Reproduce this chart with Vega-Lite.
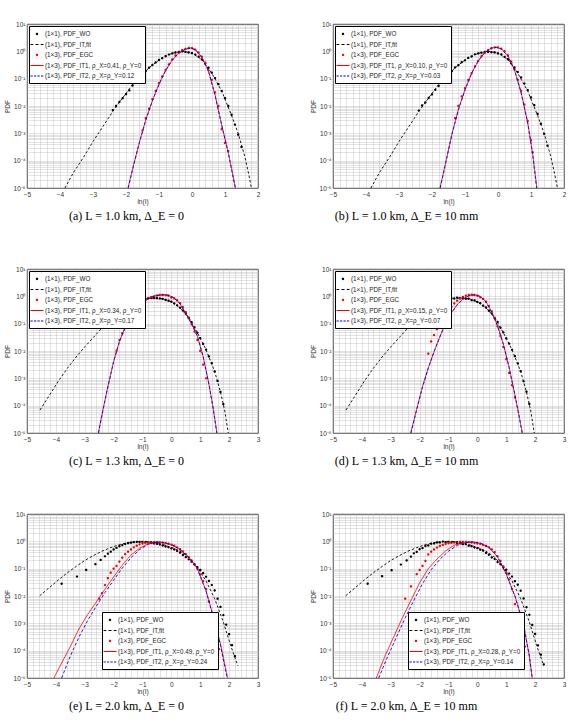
{
"$schema": "https://vega.github.io/schema/vega-lite/v6.json",
"background": "white",
"padding": {"left": 4, "top": 20, "right": 5, "bottom": 5},
"columns": 2,
"spacing": {"row": 81, "column": 75},
"bounds": "flush",
"resolve": {"scale": {"color": "independent", "shape": "independent", "strokeDash": "independent"}},
"datasets": {
"a": [
{"s":"W","x":-2.4,"y":0.00708},{"s":"W","x":-2.3,"y":0.01},{"s":"W","x":-2.2,"y":0.0141},{"s":"W","x":-2.1,"y":0.0191},{"s":"W","x":-2,"y":0.0269},{"s":"W","x":-1.9,"y":0.0372},{"s":"W","x":-1.8,"y":0.0562},{"s":"W","x":-1.7,"y":0.0794},{"s":"W","x":-1.6,"y":0.107},{"s":"W","x":-1.5,"y":0.145},{"s":"W","x":-1.4,"y":0.191},{"s":"W","x":-1.3,"y":0.251},{"s":"W","x":-1.2,"y":0.316},{"s":"W","x":-1.1,"y":0.389},{"s":"W","x":-1,"y":0.479},{"s":"W","x":-0.9,"y":0.562},{"s":"W","x":-0.8,"y":0.661},{"s":"W","x":-0.7,"y":0.759},{"s":"W","x":-0.6,"y":0.832},{"s":"W","x":-0.5,"y":0.912},{"s":"W","x":-0.4,"y":0.955},{"s":"W","x":-0.3,"y":0.977},{"s":"W","x":-0.2,"y":0.955},{"s":"W","x":-0.1,"y":0.912},{"s":"W","x":0,"y":0.851},{"s":"W","x":0.1,"y":0.759},{"s":"W","x":0.2,"y":0.631},{"s":"W","x":0.3,"y":0.501},{"s":"W","x":0.4,"y":0.355},{"s":"W","x":0.5,"y":0.251},{"s":"W","x":0.6,"y":0.166},{"s":"W","x":0.7,"y":0.105},{"s":"W","x":0.8,"y":0.0631},{"s":"W","x":0.9,"y":0.0355},{"s":"W","x":1,"y":0.0191},{"s":"W","x":1.1,"y":0.01},{"s":"W","x":1.2,"y":0.00479},{"s":"W","x":1.3,"y":0.00209},{"s":"W","x":1.4,"y":0.000891},{"s":"W","x":1.5,"y":0.000316},
{"s":"F","x":-3.85,"y":0.00001},{"s":"F","x":-3.6,"y":0.0000355},{"s":"F","x":-3.3,"y":0.000126},{"s":"F","x":-3,"y":0.000501},{"s":"F","x":-2.7,"y":0.00178},{"s":"F","x":-2.4,"y":0.00631},{"s":"F","x":-2.1,"y":0.02},{"s":"F","x":-1.8,"y":0.0603},{"s":"F","x":-1.5,"y":0.151},{"s":"F","x":-1.2,"y":0.316},{"s":"F","x":-0.9,"y":0.575},{"s":"F","x":-0.6,"y":0.851},{"s":"F","x":-0.3,"y":1},{"s":"F","x":0,"y":0.871},{"s":"F","x":0.3,"y":0.501},{"s":"F","x":0.6,"y":0.158},{"s":"F","x":0.9,"y":0.0355},{"s":"F","x":1.2,"y":0.00447},{"s":"F","x":1.4,"y":0.001},{"s":"F","x":1.6,"y":0.000141},{"s":"F","x":1.72,"y":0.0000316},{"s":"F","x":1.8,"y":0.00001},
{"s":"E","x":-1.5,"y":0.00126},{"s":"E","x":-1.4,"y":0.00355},{"s":"E","x":-1.3,"y":0.00794},{"s":"E","x":-1.2,"y":0.0178},{"s":"E","x":-1.1,"y":0.0355},{"s":"E","x":-1,"y":0.0676},{"s":"E","x":-0.9,"y":0.12},{"s":"E","x":-0.8,"y":0.209},{"s":"E","x":-0.7,"y":0.331},{"s":"E","x":-0.6,"y":0.501},{"s":"E","x":-0.5,"y":0.708},{"s":"E","x":-0.4,"y":0.912},{"s":"E","x":-0.3,"y":1.1},{"s":"E","x":-0.2,"y":1.23},{"s":"E","x":-0.1,"y":1.32},{"s":"E","x":0,"y":1.29},{"s":"E","x":0.1,"y":1.15},{"s":"E","x":0.2,"y":0.891},{"s":"E","x":0.3,"y":0.631},{"s":"E","x":0.4,"y":0.38},{"s":"E","x":0.5,"y":0.2},{"s":"E","x":0.6,"y":0.0891},{"s":"E","x":0.7,"y":0.0316},{"s":"E","x":0.8,"y":0.01},{"s":"E","x":0.9,"y":0.00141},{"s":"E","x":1,"y":0.000447},{"s":"E","x":1.1,"y":0.000224},
{"s":"1","x":-1.94,"y":0.00001},{"s":"1","x":-1.8,"y":0.0000501},{"s":"1","x":-1.6,"y":0.000447},{"s":"1","x":-1.4,"y":0.00316},{"s":"1","x":-1.2,"y":0.0158},{"s":"1","x":-1,"y":0.0631},{"s":"1","x":-0.8,"y":0.2},{"s":"1","x":-0.6,"y":0.479},{"s":"1","x":-0.4,"y":0.871},{"s":"1","x":-0.2,"y":1.2},{"s":"1","x":-0.05,"y":1.32},{"s":"1","x":0.1,"y":1.17},{"s":"1","x":0.3,"y":0.603},{"s":"1","x":0.5,"y":0.191},{"s":"1","x":0.7,"y":0.0251},{"s":"1","x":0.9,"y":0.002},{"s":"1","x":1.1,"y":0.0002},{"s":"1","x":1.32,"y":0.00001},
{"s":"2","x":-1.93,"y":0.00001},{"s":"2","x":-1.8,"y":0.0000479},{"s":"2","x":-1.6,"y":0.000427},{"s":"2","x":-1.4,"y":0.00302},{"s":"2","x":-1.2,"y":0.0155},{"s":"2","x":-1,"y":0.0617},{"s":"2","x":-0.8,"y":0.196},{"s":"2","x":-0.6,"y":0.468},{"s":"2","x":-0.4,"y":0.861},{"s":"2","x":-0.2,"y":1.19},{"s":"2","x":-0.05,"y":1.31},{"s":"2","x":0.1,"y":1.16},{"s":"2","x":0.3,"y":0.6},{"s":"2","x":0.5,"y":0.19},{"s":"2","x":0.7,"y":0.0245},{"s":"2","x":0.9,"y":0.00195},{"s":"2","x":1.1,"y":0.00019},{"s":"2","x":1.31,"y":0.00001}
],
"b": [
{"s":"W","x":-2.4,"y":0.0068},{"s":"W","x":-2.3,"y":0.0105},{"s":"W","x":-2.2,"y":0.0135},{"s":"W","x":-2.1,"y":0.0195},{"s":"W","x":-2,"y":0.0263},{"s":"W","x":-1.9,"y":0.0389},{"s":"W","x":-1.8,"y":0.0537},{"s":"W","x":-1.7,"y":0.0813},{"s":"W","x":-1.6,"y":0.105},{"s":"W","x":-1.5,"y":0.148},{"s":"W","x":-1.4,"y":0.186},{"s":"W","x":-1.3,"y":0.257},{"s":"W","x":-1.2,"y":0.309},{"s":"W","x":-1.1,"y":0.398},{"s":"W","x":-1,"y":0.468},{"s":"W","x":-0.9,"y":0.575},{"s":"W","x":-0.8,"y":0.646},{"s":"W","x":-0.7,"y":0.776},{"s":"W","x":-0.6,"y":0.832},{"s":"W","x":-0.5,"y":0.891},{"s":"W","x":-0.4,"y":0.955},{"s":"W","x":-0.3,"y":0.955},{"s":"W","x":-0.2,"y":0.933},{"s":"W","x":-0.1,"y":0.912},{"s":"W","x":0,"y":0.832},{"s":"W","x":0.1,"y":0.776},{"s":"W","x":0.2,"y":0.617},{"s":"W","x":0.3,"y":0.513},{"s":"W","x":0.4,"y":0.363},{"s":"W","x":0.5,"y":0.257},{"s":"W","x":0.6,"y":0.174},{"s":"W","x":0.7,"y":0.11},{"s":"W","x":0.8,"y":0.0661},{"s":"W","x":0.9,"y":0.038},{"s":"W","x":1,"y":0.0204},{"s":"W","x":1.1,"y":0.0107},{"s":"W","x":1.2,"y":0.00513},{"s":"W","x":1.3,"y":0.00224},{"s":"W","x":1.4,"y":0.000955},{"s":"W","x":1.5,"y":0.000355},
{"s":"F","x":-3.85,"y":0.00001},{"s":"F","x":-3.6,"y":0.0000355},{"s":"F","x":-3.3,"y":0.000126},{"s":"F","x":-3,"y":0.000501},{"s":"F","x":-2.7,"y":0.00178},{"s":"F","x":-2.4,"y":0.00631},{"s":"F","x":-2.1,"y":0.02},{"s":"F","x":-1.8,"y":0.0603},{"s":"F","x":-1.5,"y":0.151},{"s":"F","x":-1.2,"y":0.316},{"s":"F","x":-0.9,"y":0.575},{"s":"F","x":-0.6,"y":0.851},{"s":"F","x":-0.3,"y":1},{"s":"F","x":0,"y":0.871},{"s":"F","x":0.3,"y":0.501},{"s":"F","x":0.6,"y":0.158},{"s":"F","x":0.9,"y":0.0355},{"s":"F","x":1.2,"y":0.00447},{"s":"F","x":1.4,"y":0.001},{"s":"F","x":1.6,"y":0.000141},{"s":"F","x":1.72,"y":0.0000316},{"s":"F","x":1.8,"y":0.00001},
{"s":"E","x":-1.3,"y":0.00355},{"s":"E","x":-1.2,"y":0.01},{"s":"E","x":-1.1,"y":0.0224},{"s":"E","x":-1,"y":0.0447},{"s":"E","x":-0.9,"y":0.0891},{"s":"E","x":-0.8,"y":0.158},{"s":"E","x":-0.7,"y":0.282},{"s":"E","x":-0.6,"y":0.447},{"s":"E","x":-0.5,"y":0.661},{"s":"E","x":-0.4,"y":0.891},{"s":"E","x":-0.3,"y":1.1},{"s":"E","x":-0.2,"y":1.29},{"s":"E","x":-0.1,"y":1.38},{"s":"E","x":0,"y":1.38},{"s":"E","x":0.1,"y":1.26},{"s":"E","x":0.2,"y":1.02},{"s":"E","x":0.3,"y":0.708},{"s":"E","x":0.4,"y":0.417},{"s":"E","x":0.5,"y":0.219},{"s":"E","x":0.6,"y":0.0891},{"s":"E","x":0.7,"y":0.0355},{"s":"E","x":0.8,"y":0.0112},{"s":"E","x":0.9,"y":0.00282},{"s":"E","x":1,"y":0.000562},{"s":"E","x":1.05,"y":0.0002},
{"s":"1","x":-1.76,"y":0.00001},{"s":"1","x":-1.6,"y":0.0000708},{"s":"1","x":-1.4,"y":0.000912},{"s":"1","x":-1.2,"y":0.00759},{"s":"1","x":-1,"y":0.0398},{"s":"1","x":-0.8,"y":0.158},{"s":"1","x":-0.6,"y":0.447},{"s":"1","x":-0.4,"y":0.912},{"s":"1","x":-0.2,"y":1.32},{"s":"1","x":-0.05,"y":1.41},{"s":"1","x":0.1,"y":1.23},{"s":"1","x":0.3,"y":0.692},{"s":"1","x":0.5,"y":0.209},{"s":"1","x":0.7,"y":0.0316},{"s":"1","x":0.9,"y":0.00251},{"s":"1","x":1.05,"y":0.000178},{"s":"1","x":1.18,"y":0.00001},
{"s":"2","x":-1.75,"y":0.00001},{"s":"2","x":-1.6,"y":0.0000676},{"s":"2","x":-1.4,"y":0.000871},{"s":"2","x":-1.2,"y":0.00724},{"s":"2","x":-1,"y":0.0389},{"s":"2","x":-0.8,"y":0.155},{"s":"2","x":-0.6,"y":0.44},{"s":"2","x":-0.4,"y":0.9},{"s":"2","x":-0.2,"y":1.3},{"s":"2","x":-0.05,"y":1.4},{"s":"2","x":0.1,"y":1.22},{"s":"2","x":0.3,"y":0.68},{"s":"2","x":0.5,"y":0.204},{"s":"2","x":0.7,"y":0.0309},{"s":"2","x":0.9,"y":0.0024},{"s":"2","x":1.05,"y":0.00017},{"s":"2","x":1.17,"y":0.00001}
],
"c": [
{"s":"W","x":-2.2,"y":0.12},{"s":"W","x":-2.1,"y":0.151},{"s":"W","x":-2,"y":0.186},{"s":"W","x":-1.9,"y":0.229},{"s":"W","x":-1.8,"y":0.282},{"s":"W","x":-1.7,"y":0.339},{"s":"W","x":-1.6,"y":0.398},{"s":"W","x":-1.5,"y":0.468},{"s":"W","x":-1.4,"y":0.537},{"s":"W","x":-1.3,"y":0.603},{"s":"W","x":-1.2,"y":0.661},{"s":"W","x":-1.1,"y":0.724},{"s":"W","x":-1,"y":0.776},{"s":"W","x":-0.9,"y":0.813},{"s":"W","x":-0.8,"y":0.851},{"s":"W","x":-0.7,"y":0.871},{"s":"W","x":-0.6,"y":0.871},{"s":"W","x":-0.5,"y":0.851},{"s":"W","x":-0.4,"y":0.832},{"s":"W","x":-0.3,"y":0.794},{"s":"W","x":-0.2,"y":0.741},{"s":"W","x":-0.1,"y":0.692},{"s":"W","x":0,"y":0.631},{"s":"W","x":0.1,"y":0.55},{"s":"W","x":0.2,"y":0.468},{"s":"W","x":0.3,"y":0.38},{"s":"W","x":0.4,"y":0.302},{"s":"W","x":0.5,"y":0.229},{"s":"W","x":0.6,"y":0.166},{"s":"W","x":0.7,"y":0.112},{"s":"W","x":0.8,"y":0.0724},{"s":"W","x":0.9,"y":0.0468},{"s":"W","x":1,"y":0.0295},{"s":"W","x":1.1,"y":0.0182},{"s":"W","x":1.2,"y":0.0112},{"s":"W","x":1.3,"y":0.00631},{"s":"W","x":1.4,"y":0.00355},{"s":"W","x":1.5,"y":0.00178},{"s":"W","x":1.6,"y":0.000794},{"s":"W","x":1.7,"y":0.000316},{"s":"W","x":1.8,"y":0.000112},
{"s":"F","x":-4.55,"y":0.0000692},{"s":"F","x":-4.2,"y":0.000263},{"s":"F","x":-3.9,"y":0.000832},{"s":"F","x":-3.6,"y":0.00234},{"s":"F","x":-3.3,"y":0.00603},{"s":"F","x":-3,"y":0.0141},{"s":"F","x":-2.7,"y":0.0316},{"s":"F","x":-2.4,"y":0.0708},{"s":"F","x":-2.1,"y":0.148},{"s":"F","x":-1.8,"y":0.282},{"s":"F","x":-1.5,"y":0.468},{"s":"F","x":-1.2,"y":0.661},{"s":"F","x":-0.9,"y":0.813},{"s":"F","x":-0.6,"y":0.871},{"s":"F","x":-0.3,"y":0.813},{"s":"F","x":0,"y":0.631},{"s":"F","x":0.3,"y":0.38},{"s":"F","x":0.6,"y":0.166},{"s":"F","x":0.9,"y":0.0468},{"s":"F","x":1.2,"y":0.0112},{"s":"F","x":1.5,"y":0.00178},{"s":"F","x":1.7,"y":0.000316},{"s":"F","x":1.85,"y":0.0000631},{"s":"F","x":1.97,"y":0.00001},
{"s":"E","x":-1.9,"y":0.01},{"s":"E","x":-1.8,"y":0.0251},{"s":"E","x":-1.7,"y":0.0447},{"s":"E","x":-1.6,"y":0.0891},{"s":"E","x":-1.5,"y":0.132},{"s":"E","x":-1.4,"y":0.2},{"s":"E","x":-1.3,"y":0.282},{"s":"E","x":-1.2,"y":0.38},{"s":"E","x":-1.1,"y":0.501},{"s":"E","x":-1,"y":0.631},{"s":"E","x":-0.9,"y":0.741},{"s":"E","x":-0.8,"y":0.851},{"s":"E","x":-0.7,"y":0.933},{"s":"E","x":-0.6,"y":1},{"s":"E","x":-0.5,"y":1.07},{"s":"E","x":-0.4,"y":1.12},{"s":"E","x":-0.3,"y":1.12},{"s":"E","x":-0.2,"y":1.1},{"s":"E","x":-0.1,"y":1.05},{"s":"E","x":0,"y":0.912},{"s":"E","x":0.1,"y":0.832},{"s":"E","x":0.2,"y":0.708},{"s":"E","x":0.3,"y":0.562},{"s":"E","x":0.4,"y":0.398},{"s":"E","x":0.5,"y":0.263},{"s":"E","x":0.6,"y":0.158},{"s":"E","x":0.7,"y":0.0955},{"s":"E","x":0.8,"y":0.0501},{"s":"E","x":0.9,"y":0.0251},{"s":"E","x":1,"y":0.01},{"s":"E","x":1.1,"y":0.00316},{"s":"E","x":1.2,"y":0.001},
{"s":"1","x":-2.53,"y":0.00001},{"s":"1","x":-2.4,"y":0.0000501},{"s":"1","x":-2.2,"y":0.000501},{"s":"1","x":-2,"y":0.00417},{"s":"1","x":-1.8,"y":0.0224},{"s":"1","x":-1.6,"y":0.0741},{"s":"1","x":-1.4,"y":0.182},{"s":"1","x":-1.2,"y":0.355},{"s":"1","x":-1,"y":0.589},{"s":"1","x":-0.8,"y":0.832},{"s":"1","x":-0.6,"y":1.02},{"s":"1","x":-0.4,"y":1.12},{"s":"1","x":-0.25,"y":1.15},{"s":"1","x":-0.1,"y":1.1},{"s":"1","x":0.1,"y":0.871},{"s":"1","x":0.3,"y":0.537},{"s":"1","x":0.5,"y":0.24},{"s":"1","x":0.7,"y":0.1},{"s":"1","x":0.9,"y":0.0355},{"s":"1","x":1.1,"y":0.00631},{"s":"1","x":1.3,"y":0.000631},{"s":"1","x":1.45,"y":0.0000794},{"s":"1","x":1.58,"y":0.00001},
{"s":"2","x":-2.52,"y":0.00001},{"s":"2","x":-2.4,"y":0.0000468},{"s":"2","x":-2.2,"y":0.000479},{"s":"2","x":-2,"y":0.00407},{"s":"2","x":-1.8,"y":0.0219},{"s":"2","x":-1.6,"y":0.0724},{"s":"2","x":-1.4,"y":0.178},{"s":"2","x":-1.2,"y":0.35},{"s":"2","x":-1,"y":0.58},{"s":"2","x":-0.8,"y":0.82},{"s":"2","x":-0.6,"y":1.01},{"s":"2","x":-0.4,"y":1.11},{"s":"2","x":-0.25,"y":1.14},{"s":"2","x":-0.1,"y":1.09},{"s":"2","x":0.1,"y":0.865},{"s":"2","x":0.3,"y":0.53},{"s":"2","x":0.5,"y":0.236},{"s":"2","x":0.7,"y":0.098},{"s":"2","x":0.9,"y":0.0347},{"s":"2","x":1.1,"y":0.00617},{"s":"2","x":1.3,"y":0.000603},{"s":"2","x":1.45,"y":0.0000759},{"s":"2","x":1.57,"y":0.00001}
],
"d": [
{"s":"W","x":-2.2,"y":0.115},{"s":"W","x":-2.1,"y":0.155},{"s":"W","x":-2,"y":0.182},{"s":"W","x":-1.9,"y":0.234},{"s":"W","x":-1.8,"y":0.275},{"s":"W","x":-1.7,"y":0.347},{"s":"W","x":-1.6,"y":0.389},{"s":"W","x":-1.5,"y":0.479},{"s":"W","x":-1.4,"y":0.525},{"s":"W","x":-1.3,"y":0.617},{"s":"W","x":-1.2,"y":0.646},{"s":"W","x":-1.1,"y":0.741},{"s":"W","x":-1,"y":0.759},{"s":"W","x":-0.9,"y":0.832},{"s":"W","x":-0.8,"y":0.832},{"s":"W","x":-0.7,"y":0.891},{"s":"W","x":-0.6,"y":0.851},{"s":"W","x":-0.5,"y":0.871},{"s":"W","x":-0.4,"y":0.813},{"s":"W","x":-0.3,"y":0.813},{"s":"W","x":-0.2,"y":0.724},{"s":"W","x":-0.1,"y":0.708},{"s":"W","x":0,"y":0.617},{"s":"W","x":0.1,"y":0.562},{"s":"W","x":0.2,"y":0.457},{"s":"W","x":0.3,"y":0.389},{"s":"W","x":0.4,"y":0.295},{"s":"W","x":0.5,"y":0.234},{"s":"W","x":0.6,"y":0.162},{"s":"W","x":0.7,"y":0.115},{"s":"W","x":0.8,"y":0.0708},{"s":"W","x":0.9,"y":0.0479},{"s":"W","x":1,"y":0.0288},{"s":"W","x":1.1,"y":0.0186},{"s":"W","x":1.2,"y":0.011},{"s":"W","x":1.3,"y":0.00646},{"s":"W","x":1.4,"y":0.00347},{"s":"W","x":1.5,"y":0.00182},{"s":"W","x":1.6,"y":0.000776},{"s":"W","x":1.7,"y":0.000324},{"s":"W","x":1.8,"y":0.000115},
{"s":"F","x":-4.55,"y":0.0000692},{"s":"F","x":-4.2,"y":0.000263},{"s":"F","x":-3.9,"y":0.000832},{"s":"F","x":-3.6,"y":0.00234},{"s":"F","x":-3.3,"y":0.00603},{"s":"F","x":-3,"y":0.0141},{"s":"F","x":-2.7,"y":0.0316},{"s":"F","x":-2.4,"y":0.0708},{"s":"F","x":-2.1,"y":0.148},{"s":"F","x":-1.8,"y":0.282},{"s":"F","x":-1.5,"y":0.468},{"s":"F","x":-1.2,"y":0.661},{"s":"F","x":-0.9,"y":0.813},{"s":"F","x":-0.6,"y":0.871},{"s":"F","x":-0.3,"y":0.813},{"s":"F","x":0,"y":0.631},{"s":"F","x":0.3,"y":0.38},{"s":"F","x":0.6,"y":0.166},{"s":"F","x":0.9,"y":0.0468},{"s":"F","x":1.2,"y":0.0112},{"s":"F","x":1.5,"y":0.00178},{"s":"F","x":1.7,"y":0.000316},{"s":"F","x":1.85,"y":0.0000631},{"s":"F","x":1.97,"y":0.00001},
{"s":"E","x":-1.7,"y":0.00794},{"s":"E","x":-1.6,"y":0.0224},{"s":"E","x":-1.5,"y":0.038},{"s":"E","x":-1.4,"y":0.0631},{"s":"E","x":-1.3,"y":0.105},{"s":"E","x":-1.2,"y":0.158},{"s":"E","x":-1.1,"y":0.229},{"s":"E","x":-1,"y":0.316},{"s":"E","x":-0.9,"y":0.417},{"s":"E","x":-0.8,"y":0.55},{"s":"E","x":-0.7,"y":0.692},{"s":"E","x":-0.6,"y":0.832},{"s":"E","x":-0.5,"y":0.955},{"s":"E","x":-0.4,"y":1.05},{"s":"E","x":-0.3,"y":1.12},{"s":"E","x":-0.2,"y":1.15},{"s":"E","x":-0.1,"y":1.12},{"s":"E","x":0,"y":1.05},{"s":"E","x":0.1,"y":0.933},{"s":"E","x":0.2,"y":0.794},{"s":"E","x":0.3,"y":0.631},{"s":"E","x":0.4,"y":0.447},{"s":"E","x":0.5,"y":0.282},{"s":"E","x":0.6,"y":0.158},{"s":"E","x":0.7,"y":0.0794},{"s":"E","x":0.8,"y":0.0355},{"s":"E","x":0.9,"y":0.0141},{"s":"E","x":1,"y":0.00501},{"s":"E","x":1.1,"y":0.00158},{"s":"E","x":1.2,"y":0.000562},{"s":"E","x":1.3,"y":0.0002},
{"s":"1","x":-2.31,"y":0.00001},{"s":"1","x":-2.1,"y":0.0000759},{"s":"1","x":-1.9,"y":0.000501},{"s":"1","x":-1.7,"y":0.0024},{"s":"1","x":-1.5,"y":0.00955},{"s":"1","x":-1.3,"y":0.0331},{"s":"1","x":-1.1,"y":0.107},{"s":"1","x":-0.9,"y":0.251},{"s":"1","x":-0.7,"y":0.501},{"s":"1","x":-0.5,"y":0.794},{"s":"1","x":-0.3,"y":1.05},{"s":"1","x":-0.1,"y":1.15},{"s":"1","x":0.1,"y":1},{"s":"1","x":0.3,"y":0.631},{"s":"1","x":0.5,"y":0.263},{"s":"1","x":0.7,"y":0.0832},{"s":"1","x":0.9,"y":0.0178},{"s":"1","x":1.1,"y":0.00251},{"s":"1","x":1.3,"y":0.000251},{"s":"1","x":1.45,"y":0.0000398},{"s":"1","x":1.56,"y":0.00001},
{"s":"2","x":-2.3,"y":0.00001},{"s":"2","x":-2.1,"y":0.0000724},{"s":"2","x":-1.9,"y":0.000479},{"s":"2","x":-1.7,"y":0.00234},{"s":"2","x":-1.5,"y":0.00933},{"s":"2","x":-1.3,"y":0.0324},{"s":"2","x":-1.1,"y":0.105},{"s":"2","x":-0.9,"y":0.245},{"s":"2","x":-0.7,"y":0.49},{"s":"2","x":-0.5,"y":0.785},{"s":"2","x":-0.3,"y":1.04},{"s":"2","x":-0.1,"y":1.14},{"s":"2","x":0.1,"y":0.99},{"s":"2","x":0.3,"y":0.625},{"s":"2","x":0.5,"y":0.258},{"s":"2","x":0.7,"y":0.0813},{"s":"2","x":0.9,"y":0.0174},{"s":"2","x":1.1,"y":0.00245},{"s":"2","x":1.3,"y":0.00024},{"s":"2","x":1.45,"y":0.000038},{"s":"2","x":1.55,"y":0.00001}
],
"e": [
{"s":"W","x":-3.8,"y":0.0282},{"s":"W","x":-3.27,"y":0.0513},{"s":"W","x":-2.95,"y":0.0891},{"s":"W","x":-2.63,"y":0.145},{"s":"W","x":-2.45,"y":0.209},{"s":"W","x":-2.3,"y":0.282},{"s":"W","x":-2.2,"y":0.355},{"s":"W","x":-2.1,"y":0.417},{"s":"W","x":-2,"y":0.501},{"s":"W","x":-1.9,"y":0.575},{"s":"W","x":-1.8,"y":0.661},{"s":"W","x":-1.7,"y":0.724},{"s":"W","x":-1.6,"y":0.794},{"s":"W","x":-1.5,"y":0.851},{"s":"W","x":-1.4,"y":0.891},{"s":"W","x":-1.3,"y":0.933},{"s":"W","x":-1.2,"y":0.955},{"s":"W","x":-1.1,"y":0.955},{"s":"W","x":-1,"y":0.955},{"s":"W","x":-0.9,"y":0.933},{"s":"W","x":-0.8,"y":0.912},{"s":"W","x":-0.7,"y":0.871},{"s":"W","x":-0.6,"y":0.832},{"s":"W","x":-0.5,"y":0.794},{"s":"W","x":-0.4,"y":0.759},{"s":"W","x":-0.3,"y":0.708},{"s":"W","x":-0.2,"y":0.646},{"s":"W","x":-0.1,"y":0.603},{"s":"W","x":0,"y":0.55},{"s":"W","x":0.1,"y":0.501},{"s":"W","x":0.2,"y":0.447},{"s":"W","x":0.3,"y":0.38},{"s":"W","x":0.4,"y":0.316},{"s":"W","x":0.5,"y":0.263},{"s":"W","x":0.6,"y":0.219},{"s":"W","x":0.7,"y":0.178},{"s":"W","x":0.8,"y":0.141},{"s":"W","x":0.9,"y":0.112},{"s":"W","x":1,"y":0.0891},{"s":"W","x":1.1,"y":0.0676},{"s":"W","x":1.2,"y":0.0501},{"s":"W","x":1.3,"y":0.0355},{"s":"W","x":1.4,"y":0.0251},{"s":"W","x":1.5,"y":0.0158},{"s":"W","x":1.6,"y":0.00794},{"s":"W","x":1.7,"y":0.00398},{"s":"W","x":1.8,"y":0.002},{"s":"W","x":1.9,"y":0.000891},{"s":"W","x":2,"y":0.000398},{"s":"W","x":2.1,"y":0.000158},{"s":"W","x":2.2,"y":0.0000631},
{"s":"F","x":-4.56,"y":0.0102},{"s":"F","x":-4.2,"y":0.0214},{"s":"F","x":-3.9,"y":0.0398},{"s":"F","x":-3.6,"y":0.0708},{"s":"F","x":-3.3,"y":0.12},{"s":"F","x":-3,"y":0.2},{"s":"F","x":-2.7,"y":0.302},{"s":"F","x":-2.4,"y":0.437},{"s":"F","x":-2.1,"y":0.589},{"s":"F","x":-1.8,"y":0.759},{"s":"F","x":-1.5,"y":0.891},{"s":"F","x":-1.2,"y":0.977},{"s":"F","x":-0.9,"y":1},{"s":"F","x":-0.6,"y":0.933},{"s":"F","x":-0.3,"y":0.759},{"s":"F","x":0,"y":0.603},{"s":"F","x":0.3,"y":0.437},{"s":"F","x":0.6,"y":0.263},{"s":"F","x":0.9,"y":0.112},{"s":"F","x":1.2,"y":0.0355},{"s":"F","x":1.5,"y":0.00794},{"s":"F","x":1.8,"y":0.00112},{"s":"F","x":2.05,"y":0.000158},{"s":"F","x":2.3,"y":0.0000282},
{"s":"E","x":-2.5,"y":0.00794},{"s":"E","x":-2.4,"y":0.0126},{"s":"E","x":-2.3,"y":0.0251},{"s":"E","x":-2.2,"y":0.0447},{"s":"E","x":-2.1,"y":0.0708},{"s":"E","x":-2,"y":0.1},{"s":"E","x":-1.9,"y":0.126},{"s":"E","x":-1.8,"y":0.178},{"s":"E","x":-1.7,"y":0.251},{"s":"E","x":-1.6,"y":0.339},{"s":"E","x":-1.5,"y":0.417},{"s":"E","x":-1.4,"y":0.501},{"s":"E","x":-1.3,"y":0.603},{"s":"E","x":-1.2,"y":0.692},{"s":"E","x":-1.1,"y":0.776},{"s":"E","x":-1,"y":0.832},{"s":"E","x":-0.9,"y":0.871},{"s":"E","x":-0.8,"y":0.912},{"s":"E","x":-0.7,"y":0.912},{"s":"E","x":-0.6,"y":0.933},{"s":"E","x":-0.5,"y":0.933},{"s":"E","x":-0.4,"y":0.912},{"s":"E","x":-0.3,"y":0.891},{"s":"E","x":-0.2,"y":0.851},{"s":"E","x":-0.1,"y":0.813},{"s":"E","x":0,"y":0.759},{"s":"E","x":0.1,"y":0.692},{"s":"E","x":0.2,"y":0.603},{"s":"E","x":0.3,"y":0.513},{"s":"E","x":0.4,"y":0.427},{"s":"E","x":0.5,"y":0.339},{"s":"E","x":0.6,"y":0.263},{"s":"E","x":0.7,"y":0.2},{"s":"E","x":0.8,"y":0.145},{"s":"E","x":0.9,"y":0.1},{"s":"E","x":1,"y":0.0603},{"s":"E","x":1.1,"y":0.0355},{"s":"E","x":1.2,"y":0.0178},{"s":"E","x":1.3,"y":0.00631},{"s":"E","x":1.4,"y":0.00126},{"s":"E","x":1.5,"y":0.000501},{"s":"E","x":1.65,"y":0.000112},
{"s":"1","x":-4.07,"y":0.00001},{"s":"1","x":-3.8,"y":0.0000355},{"s":"1","x":-3.5,"y":0.000141},{"s":"1","x":-3.2,"y":0.000631},{"s":"1","x":-2.9,"y":0.00209},{"s":"1","x":-2.6,"y":0.00603},{"s":"1","x":-2.3,"y":0.0178},{"s":"1","x":-2,"y":0.0501},{"s":"1","x":-1.7,"y":0.135},{"s":"1","x":-1.4,"y":0.316},{"s":"1","x":-1.1,"y":0.562},{"s":"1","x":-0.8,"y":0.813},{"s":"1","x":-0.55,"y":0.955},{"s":"1","x":-0.3,"y":0.912},{"s":"1","x":0,"y":0.759},{"s":"1","x":0.3,"y":0.501},{"s":"1","x":0.6,"y":0.263},{"s":"1","x":0.9,"y":0.1},{"s":"1","x":1.2,"y":0.0158},{"s":"1","x":1.5,"y":0.0012},{"s":"1","x":1.7,"y":0.000178},{"s":"1","x":1.95,"y":0.00001},
{"s":"2","x":-3.8,"y":0.00001},{"s":"2","x":-3.5,"y":0.0000631},{"s":"2","x":-3.2,"y":0.000316},{"s":"2","x":-2.9,"y":0.00126},{"s":"2","x":-2.6,"y":0.00427},{"s":"2","x":-2.3,"y":0.0132},{"s":"2","x":-2,"y":0.038},{"s":"2","x":-1.7,"y":0.105},{"s":"2","x":-1.4,"y":0.251},{"s":"2","x":-1.1,"y":0.501},{"s":"2","x":-0.8,"y":0.776},{"s":"2","x":-0.55,"y":0.933},{"s":"2","x":-0.3,"y":0.912},{"s":"2","x":0,"y":0.759},{"s":"2","x":0.3,"y":0.501},{"s":"2","x":0.6,"y":0.263},{"s":"2","x":0.9,"y":0.1},{"s":"2","x":1.2,"y":0.0151},{"s":"2","x":1.5,"y":0.00112},{"s":"2","x":1.7,"y":0.000158},{"s":"2","x":1.93,"y":0.00001}
],
"f": [
{"s":"W","x":-3.8,"y":0.0282},{"s":"W","x":-3.3,"y":0.0525},{"s":"W","x":-2.97,"y":0.0871},{"s":"W","x":-2.65,"y":0.141},{"s":"W","x":-2.45,"y":0.2},{"s":"W","x":-2.3,"y":0.275},{"s":"W","x":-2.2,"y":0.363},{"s":"W","x":-2.1,"y":0.407},{"s":"W","x":-2,"y":0.513},{"s":"W","x":-1.9,"y":0.562},{"s":"W","x":-1.8,"y":0.676},{"s":"W","x":-1.7,"y":0.708},{"s":"W","x":-1.6,"y":0.813},{"s":"W","x":-1.5,"y":0.832},{"s":"W","x":-1.4,"y":0.912},{"s":"W","x":-1.3,"y":0.912},{"s":"W","x":-1.2,"y":0.977},{"s":"W","x":-1.1,"y":0.933},{"s":"W","x":-1,"y":0.955},{"s":"W","x":-0.9,"y":0.912},{"s":"W","x":-0.8,"y":0.933},{"s":"W","x":-0.7,"y":0.851},{"s":"W","x":-0.6,"y":0.851},{"s":"W","x":-0.5,"y":0.776},{"s":"W","x":-0.4,"y":0.776},{"s":"W","x":-0.3,"y":0.692},{"s":"W","x":-0.2,"y":0.661},{"s":"W","x":-0.1,"y":0.589},{"s":"W","x":0,"y":0.562},{"s":"W","x":0.1,"y":0.49},{"s":"W","x":0.2,"y":0.457},{"s":"W","x":0.3,"y":0.372},{"s":"W","x":0.4,"y":0.324},{"s":"W","x":0.5,"y":0.257},{"s":"W","x":0.6,"y":0.224},{"s":"W","x":0.7,"y":0.174},{"s":"W","x":0.8,"y":0.145},{"s":"W","x":0.9,"y":0.11},{"s":"W","x":1,"y":0.0912},{"s":"W","x":1.1,"y":0.0661},{"s":"W","x":1.2,"y":0.0513},{"s":"W","x":1.3,"y":0.0347},{"s":"W","x":1.4,"y":0.0257},{"s":"W","x":1.5,"y":0.0155},{"s":"W","x":1.6,"y":0.00813},{"s":"W","x":1.7,"y":0.00389},{"s":"W","x":1.8,"y":0.00204},{"s":"W","x":1.9,"y":0.000871},{"s":"W","x":2,"y":0.000407},{"s":"W","x":2.1,"y":0.000155},{"s":"W","x":2.2,"y":0.0000708},{"s":"W","x":2.3,"y":0.0000316},
{"s":"F","x":-4.56,"y":0.0102},{"s":"F","x":-4.2,"y":0.0214},{"s":"F","x":-3.9,"y":0.0398},{"s":"F","x":-3.6,"y":0.0708},{"s":"F","x":-3.3,"y":0.12},{"s":"F","x":-3,"y":0.2},{"s":"F","x":-2.7,"y":0.302},{"s":"F","x":-2.4,"y":0.437},{"s":"F","x":-2.1,"y":0.589},{"s":"F","x":-1.8,"y":0.759},{"s":"F","x":-1.5,"y":0.891},{"s":"F","x":-1.2,"y":0.977},{"s":"F","x":-0.9,"y":1},{"s":"F","x":-0.6,"y":0.933},{"s":"F","x":-0.3,"y":0.759},{"s":"F","x":0,"y":0.603},{"s":"F","x":0.3,"y":0.437},{"s":"F","x":0.6,"y":0.263},{"s":"F","x":0.9,"y":0.112},{"s":"F","x":1.2,"y":0.0355},{"s":"F","x":1.5,"y":0.00794},{"s":"F","x":1.8,"y":0.00112},{"s":"F","x":2.05,"y":0.000158},{"s":"F","x":2.3,"y":0.0000282},
{"s":"E","x":-2.5,"y":0.00794},{"s":"E","x":-2.3,"y":0.0224},{"s":"E","x":-2.1,"y":0.0631},{"s":"E","x":-2,"y":0.0891},{"s":"E","x":-1.9,"y":0.126},{"s":"E","x":-1.8,"y":0.191},{"s":"E","x":-1.7,"y":0.331},{"s":"E","x":-1.6,"y":0.417},{"s":"E","x":-1.5,"y":0.501},{"s":"E","x":-1.4,"y":0.589},{"s":"E","x":-1.3,"y":0.676},{"s":"E","x":-1.2,"y":0.741},{"s":"E","x":-1.1,"y":0.794},{"s":"E","x":-1,"y":0.851},{"s":"E","x":-0.9,"y":0.891},{"s":"E","x":-0.8,"y":0.912},{"s":"E","x":-0.7,"y":0.933},{"s":"E","x":-0.6,"y":0.955},{"s":"E","x":-0.5,"y":0.955},{"s":"E","x":-0.4,"y":0.955},{"s":"E","x":-0.3,"y":0.933},{"s":"E","x":-0.2,"y":0.912},{"s":"E","x":-0.1,"y":0.871},{"s":"E","x":0,"y":0.832},{"s":"E","x":0.1,"y":0.794},{"s":"E","x":0.2,"y":0.741},{"s":"E","x":0.3,"y":0.676},{"s":"E","x":0.4,"y":0.603},{"s":"E","x":0.5,"y":0.501},{"s":"E","x":0.6,"y":0.398},{"s":"E","x":0.7,"y":0.282},{"s":"E","x":0.8,"y":0.191},{"s":"E","x":0.9,"y":0.12},{"s":"E","x":1,"y":0.0708},{"s":"E","x":1.1,"y":0.0398},{"s":"E","x":1.2,"y":0.0178},{"s":"E","x":1.3,"y":0.00501},{"s":"E","x":1.4,"y":0.00224},{"s":"E","x":1.5,"y":0.000794},{"s":"E","x":1.65,"y":0.000141},
{"s":"1","x":-3.5,"y":0.00001},{"s":"1","x":-3.2,"y":0.0000631},{"s":"1","x":-2.9,"y":0.000316},{"s":"1","x":-2.6,"y":0.00158},{"s":"1","x":-2.3,"y":0.00692},{"s":"1","x":-2,"y":0.0302},{"s":"1","x":-1.7,"y":0.1},{"s":"1","x":-1.4,"y":0.224},{"s":"1","x":-1.1,"y":0.447},{"s":"1","x":-0.8,"y":0.724},{"s":"1","x":-0.5,"y":0.891},{"s":"1","x":-0.2,"y":0.955},{"s":"1","x":0.1,"y":0.851},{"s":"1","x":0.4,"y":0.603},{"s":"1","x":0.7,"y":0.269},{"s":"1","x":1,"y":0.0631},{"s":"1","x":1.3,"y":0.01},{"s":"1","x":1.6,"y":0.000891},{"s":"1","x":1.8,"y":0.0000631},{"s":"1","x":1.9,"y":0.00001},
{"s":"2","x":-3.42,"y":0.00001},{"s":"2","x":-3.1,"y":0.0000631},{"s":"2","x":-2.8,"y":0.000316},{"s":"2","x":-2.5,"y":0.00158},{"s":"2","x":-2.2,"y":0.00692},{"s":"2","x":-1.9,"y":0.0282},{"s":"2","x":-1.6,"y":0.0912},{"s":"2","x":-1.3,"y":0.219},{"s":"2","x":-1,"y":0.437},{"s":"2","x":-0.7,"y":0.708},{"s":"2","x":-0.4,"y":0.891},{"s":"2","x":-0.15,"y":0.955},{"s":"2","x":0.1,"y":0.871},{"s":"2","x":0.4,"y":0.603},{"s":"2","x":0.7,"y":0.269},{"s":"2","x":1,"y":0.0631},{"s":"2","x":1.3,"y":0.01},{"s":"2","x":1.6,"y":0.000891},{"s":"2","x":1.8,"y":0.0000631},{"s":"2","x":1.9,"y":0.00001}
]
},
"concat": [
{
"width": 231, "height": 164, "data": {"name": "a"},
"title": {"text": "(a)  L = 1.0 km, Δ_E = 0", "dx": -16},
"encoding": {
"x": {"field": "x", "type": "quantitative", "title": "ln(I)", "scale": {"domain": [-5, 2], "nice": false, "zero": false}, "axis": {"values": [-5,-4.8,-4.6,-4.4,-4.2,-4,-3.8,-3.6,-3.4,-3.2,-3,-2.8,-2.6,-2.4,-2.2,-2,-1.8,-1.6,-1.4,-1.2,-1,-0.8,-0.6,-0.4,-0.2,0,0.2,0.4,0.6,0.8,1,1.2,1.4,1.6,1.8,2], "labelExpr": "datum.value % 1 == 0 ? format(datum.value, 'd') : ''"}},
"y": {"field": "y", "type": "quantitative", "title": "PDF", "scale": {"type": "log", "domain": [0.00001, 10], "nice": false}, "axis": {"values": [0.00001,0.00002,0.00003,0.00004,0.00005,0.00006,0.00007,0.00008,0.00009,0.0001,0.0002,0.0003,0.0004,0.0005,0.0006,0.0007,0.0008,0.0009,0.001,0.002,0.003,0.004,0.005,0.006,0.007,0.008,0.009,0.01,0.02,0.03,0.04,0.05,0.06,0.07,0.08,0.09,0.1,0.2,0.3,0.4,0.5,0.6,0.7,0.8,0.9,1,2,3,4,5,6,7,8,9,10], "labelExpr": "datum.value==10?'10¹':datum.value==1?'10⁰':datum.value==0.1?'10⁻¹':datum.value==0.01?'10⁻²':datum.value==0.001?'10⁻³':datum.value==0.0001?'10⁻⁴':datum.value==0.00001?'10⁻⁵':''"}}
},
"layer": [
{"transform": [{"filter": "datum.s=='W'||datum.s=='E'"}], "mark": "point",
 "encoding": {"color": {"field": "s", "type": "nominal", "scale": {"domain": ["W","F","E","1","2"]}, "legend": {"title": null, "orient": "top-left", "offset": 2, "labelExpr": "datum.value=='W'?'(1×1), PDF_WO':datum.value=='F'?'(1×1), PDF_IT,fit':datum.value=='E'?'(1×3), PDF_EGC':datum.value=='1'?'(1×3), PDF_IT1, ρ_X=0.41, ρ_Y=0':'(1×3), PDF_IT2, ρ_X=ρ_Y=0.12'"}},
  "shape": {"field": "s", "type": "nominal", "scale": {"domain": ["W","F","E","1","2"]}}}},
{"transform": [{"filter": "datum.s=='F'||datum.s=='1'||datum.s=='2'"}], "mark": "line",
 "encoding": {"color": {"field": "s", "type": "nominal", "scale": {"domain": ["W","F","E","1","2"]}, "legend": null},
  "strokeDash": {"field": "s", "type": "nominal", "scale": {"domain": ["W","F","E","1","2"], "range": [[1,0],[2.5,2],[1,0],[1,0],[3,2]]}, "legend": null}}},
{"data": {"values": [{}]}, "mark": {"type": "text", "font": "Liberation Serif", "fontStyle": "italic", "fontSize": 6.5, "color": "#444"}, "encoding": {"x": {"datum": -3.32}, "y": {"datum": 0.0093}, "text": {"value": "a = 14.37, b = 5.84"}}},
{"data": {"values": [{}]}, "mark": {"type": "rule", "color": "#000", "strokeWidth": 0.8}, "encoding": {"x": {"datum": -3.22}, "y": {"datum": 0.0062}, "x2": {"datum": -2.95}, "y2": {"datum": 0.00085}}},
{"data": {"values": [{}]}, "mark": {"type": "point", "shape": "triangle-down", "size": 18, "angle": 338, "color": "#000"}, "encoding": {"x": {"datum": -2.93}, "y": {"datum": 0.00076}}},
{"data": {"values": [{}]}, "mark": {"type": "text", "align": "right", "fontSize": 6.5, "color": "#222"}, "encoding": {"x": {"datum": 1.95}, "y": {"datum": 3.3}, "text": {"value": "ρ=0.11"}}}
]
},
{
"width": 231, "height": 164, "data": {"name": "b"},
"title": {"text": "(b)  L = 1.0 km, Δ_E = 10 mm", "dx": -42},
"encoding": {
"x": {"field": "x", "type": "quantitative", "title": "ln(I)", "scale": {"domain": [-5, 2], "nice": false, "zero": false}, "axis": {"values": [-5,-4.8,-4.6,-4.4,-4.2,-4,-3.8,-3.6,-3.4,-3.2,-3,-2.8,-2.6,-2.4,-2.2,-2,-1.8,-1.6,-1.4,-1.2,-1,-0.8,-0.6,-0.4,-0.2,0,0.2,0.4,0.6,0.8,1,1.2,1.4,1.6,1.8,2], "labelExpr": "datum.value % 1 == 0 ? format(datum.value, 'd') : ''"}},
"y": {"field": "y", "type": "quantitative", "title": "PDF", "scale": {"type": "log", "domain": [0.00001, 10], "nice": false}, "axis": {"values": [0.00001,0.00002,0.00003,0.00004,0.00005,0.00006,0.00007,0.00008,0.00009,0.0001,0.0002,0.0003,0.0004,0.0005,0.0006,0.0007,0.0008,0.0009,0.001,0.002,0.003,0.004,0.005,0.006,0.007,0.008,0.009,0.01,0.02,0.03,0.04,0.05,0.06,0.07,0.08,0.09,0.1,0.2,0.3,0.4,0.5,0.6,0.7,0.8,0.9,1,2,3,4,5,6,7,8,9,10], "labelExpr": "datum.value==10?'10¹':datum.value==1?'10⁰':datum.value==0.1?'10⁻¹':datum.value==0.01?'10⁻²':datum.value==0.001?'10⁻³':datum.value==0.0001?'10⁻⁴':datum.value==0.00001?'10⁻⁵':''"}}
},
"layer": [
{"transform": [{"filter": "datum.s=='W'||datum.s=='E'"}], "mark": "point",
 "encoding": {"color": {"field": "s", "type": "nominal", "scale": {"domain": ["W","F","E","1","2"]}, "legend": {"title": null, "orient": "top-left", "offset": 2, "labelExpr": "datum.value=='W'?'(1×1), PDF_WO':datum.value=='F'?'(1×1), PDF_IT,fit':datum.value=='E'?'(1×3), PDF_EGC':datum.value=='1'?'(1×3), PDF_IT1, ρ_X=0.10, ρ_Y=0':'(1×3), PDF_IT2, ρ_X=ρ_Y=0.03'"}},
  "shape": {"field": "s", "type": "nominal", "scale": {"domain": ["W","F","E","1","2"]}}}},
{"transform": [{"filter": "datum.s=='F'||datum.s=='1'||datum.s=='2'"}], "mark": "line",
 "encoding": {"color": {"field": "s", "type": "nominal", "scale": {"domain": ["W","F","E","1","2"]}, "legend": null},
  "strokeDash": {"field": "s", "type": "nominal", "scale": {"domain": ["W","F","E","1","2"], "range": [[1,0],[2.5,2],[1,0],[1,0],[3,2]]}, "legend": null}}},
{"data": {"values": [{}]}, "mark": {"type": "text", "font": "Liberation Serif", "fontStyle": "italic", "fontSize": 6.5, "color": "#444"}, "encoding": {"x": {"datum": -3.26}, "y": {"datum": 0.0141}, "text": {"value": "a = 14.37, b = 5.84"}}},
{"data": {"values": [{}]}, "mark": {"type": "rule", "color": "#000", "strokeWidth": 0.8}, "encoding": {"x": {"datum": -3.25}, "y": {"datum": 0.0093}, "x2": {"datum": -2.89}, "y2": {"datum": 0.00085}}},
{"data": {"values": [{}]}, "mark": {"type": "point", "shape": "triangle-down", "size": 18, "angle": 336, "color": "#000"}, "encoding": {"x": {"datum": -2.87}, "y": {"datum": 0.00076}}},
{"data": {"values": [{}]}, "mark": {"type": "text", "align": "right", "fontSize": 6.5, "color": "#222"}, "encoding": {"x": {"datum": 1.95}, "y": {"datum": 3.3}, "text": {"value": "ρ=0.03"}}}
]
},
{
"width": 231, "height": 164, "data": {"name": "c"},
"title": {"text": "(c)  L = 1.3 km, Δ_E = 0", "dx": -16},
"encoding": {
"x": {"field": "x", "type": "quantitative", "title": "ln(I)", "scale": {"domain": [-5, 3], "nice": false, "zero": false}, "axis": {"values": [-5,-4.8,-4.6,-4.4,-4.2,-4,-3.8,-3.6,-3.4,-3.2,-3,-2.8,-2.6,-2.4,-2.2,-2,-1.8,-1.6,-1.4,-1.2,-1,-0.8,-0.6,-0.4,-0.2,0,0.2,0.4,0.6,0.8,1,1.2,1.4,1.6,1.8,2,2.2,2.4,2.6,2.8,3], "labelExpr": "datum.value % 1 == 0 ? format(datum.value, 'd') : ''"}},
"y": {"field": "y", "type": "quantitative", "title": "PDF", "scale": {"type": "log", "domain": [0.00001, 10], "nice": false}, "axis": {"values": [0.00001,0.00002,0.00003,0.00004,0.00005,0.00006,0.00007,0.00008,0.00009,0.0001,0.0002,0.0003,0.0004,0.0005,0.0006,0.0007,0.0008,0.0009,0.001,0.002,0.003,0.004,0.005,0.006,0.007,0.008,0.009,0.01,0.02,0.03,0.04,0.05,0.06,0.07,0.08,0.09,0.1,0.2,0.3,0.4,0.5,0.6,0.7,0.8,0.9,1,2,3,4,5,6,7,8,9,10], "labelExpr": "datum.value==10?'10¹':datum.value==1?'10⁰':datum.value==0.1?'10⁻¹':datum.value==0.01?'10⁻²':datum.value==0.001?'10⁻³':datum.value==0.0001?'10⁻⁴':datum.value==0.00001?'10⁻⁵':''"}}
},
"layer": [
{"transform": [{"filter": "datum.s=='W'||datum.s=='E'"}], "mark": "point",
 "encoding": {"color": {"field": "s", "type": "nominal", "scale": {"domain": ["W","F","E","1","2"]}, "legend": {"title": null, "orient": "top-left", "offset": 2, "labelExpr": "datum.value=='W'?'(1×1), PDF_WO':datum.value=='F'?'(1×1), PDF_IT,fit':datum.value=='E'?'(1×3), PDF_EGC':datum.value=='1'?'(1×3), PDF_IT1, ρ_X=0.34, ρ_Y=0':'(1×3), PDF_IT2, ρ_X=ρ_Y=0.17'"}},
  "shape": {"field": "s", "type": "nominal", "scale": {"domain": ["W","F","E","1","2"]}}}},
{"transform": [{"filter": "datum.s=='F'||datum.s=='1'||datum.s=='2'"}], "mark": "line",
 "encoding": {"color": {"field": "s", "type": "nominal", "scale": {"domain": ["W","F","E","1","2"]}, "legend": null},
  "strokeDash": {"field": "s", "type": "nominal", "scale": {"domain": ["W","F","E","1","2"], "range": [[1,0],[2.5,2],[1,0],[1,0],[3,2]]}, "legend": null}}},
{"data": {"values": [{}]}, "mark": {"type": "text", "font": "Liberation Serif", "fontStyle": "italic", "fontSize": 6.5, "color": "#444"}, "encoding": {"x": {"datum": -3.83}, "y": {"datum": 0.0186}, "text": {"value": "a = 5.30, b = 5.30"}}},
{"data": {"values": [{}]}, "mark": {"type": "rule", "color": "#000", "strokeWidth": 0.8}, "encoding": {"x": {"datum": -3.85}, "y": {"datum": 0.0123}, "x2": {"datum": -3.69}, "y2": {"datum": 0.0022}}},
{"data": {"values": [{}]}, "mark": {"type": "point", "shape": "triangle-down", "size": 18, "angle": 347, "color": "#000"}, "encoding": {"x": {"datum": -3.68}, "y": {"datum": 0.002}}},
{"data": {"values": [{}]}, "mark": {"type": "text", "align": "right", "fontSize": 6.5, "color": "#222"}, "encoding": {"x": {"datum": 2.95}, "y": {"datum": 3.3}, "text": {"value": "ρ=0.16"}}}
]
},
{
"width": 231, "height": 164, "data": {"name": "d"},
"title": {"text": "(d)  L = 1.3 km, Δ_E = 10 mm", "dx": -42},
"encoding": {
"x": {"field": "x", "type": "quantitative", "title": "ln(I)", "scale": {"domain": [-5, 3], "nice": false, "zero": false}, "axis": {"values": [-5,-4.8,-4.6,-4.4,-4.2,-4,-3.8,-3.6,-3.4,-3.2,-3,-2.8,-2.6,-2.4,-2.2,-2,-1.8,-1.6,-1.4,-1.2,-1,-0.8,-0.6,-0.4,-0.2,0,0.2,0.4,0.6,0.8,1,1.2,1.4,1.6,1.8,2,2.2,2.4,2.6,2.8,3], "labelExpr": "datum.value % 1 == 0 ? format(datum.value, 'd') : ''"}},
"y": {"field": "y", "type": "quantitative", "title": "PDF", "scale": {"type": "log", "domain": [0.00001, 10], "nice": false}, "axis": {"values": [0.00001,0.00002,0.00003,0.00004,0.00005,0.00006,0.00007,0.00008,0.00009,0.0001,0.0002,0.0003,0.0004,0.0005,0.0006,0.0007,0.0008,0.0009,0.001,0.002,0.003,0.004,0.005,0.006,0.007,0.008,0.009,0.01,0.02,0.03,0.04,0.05,0.06,0.07,0.08,0.09,0.1,0.2,0.3,0.4,0.5,0.6,0.7,0.8,0.9,1,2,3,4,5,6,7,8,9,10], "labelExpr": "datum.value==10?'10¹':datum.value==1?'10⁰':datum.value==0.1?'10⁻¹':datum.value==0.01?'10⁻²':datum.value==0.001?'10⁻³':datum.value==0.0001?'10⁻⁴':datum.value==0.00001?'10⁻⁵':''"}}
},
"layer": [
{"transform": [{"filter": "datum.s=='W'||datum.s=='E'"}], "mark": "point",
 "encoding": {"color": {"field": "s", "type": "nominal", "scale": {"domain": ["W","F","E","1","2"]}, "legend": {"title": null, "orient": "top-left", "offset": 2, "labelExpr": "datum.value=='W'?'(1×1), PDF_WO':datum.value=='F'?'(1×1), PDF_IT,fit':datum.value=='E'?'(1×3), PDF_EGC':datum.value=='1'?'(1×3), PDF_IT1, ρ_X=0.15, ρ_Y=0':'(1×3), PDF_IT2, ρ_X=ρ_Y=0.07'"}},
  "shape": {"field": "s", "type": "nominal", "scale": {"domain": ["W","F","E","1","2"]}}}},
{"transform": [{"filter": "datum.s=='F'||datum.s=='1'||datum.s=='2'"}], "mark": "line",
 "encoding": {"color": {"field": "s", "type": "nominal", "scale": {"domain": ["W","F","E","1","2"]}, "legend": null},
  "strokeDash": {"field": "s", "type": "nominal", "scale": {"domain": ["W","F","E","1","2"], "range": [[1,0],[2.5,2],[1,0],[1,0],[3,2]]}, "legend": null}}},
{"data": {"values": [{}]}, "mark": {"type": "text", "font": "Liberation Serif", "fontStyle": "italic", "fontSize": 6.5, "color": "#444"}, "encoding": {"x": {"datum": -3.97}, "y": {"datum": 0.0162}, "text": {"value": "a = 5.30, b = 5.30"}}},
{"data": {"values": [{}]}, "mark": {"type": "rule", "color": "#000", "strokeWidth": 0.8}, "encoding": {"x": {"datum": -3.88}, "y": {"datum": 0.0107}, "x2": {"datum": -3.68}, "y2": {"datum": 0.00145}}},
{"data": {"values": [{}]}, "mark": {"type": "point", "shape": "triangle-down", "size": 18, "angle": 346, "color": "#000"}, "encoding": {"x": {"datum": -3.67}, "y": {"datum": 0.00129}}},
{"data": {"values": [{}]}, "mark": {"type": "text", "align": "right", "fontSize": 6.5, "color": "#222"}, "encoding": {"x": {"datum": 2.95}, "y": {"datum": 3.3}, "text": {"value": "ρ=0.12"}}}
]
},
{
"width": 231, "height": 164, "data": {"name": "e"},
"title": {"text": "(e)  L = 2.0 km, Δ_E = 0", "dx": -16},
"encoding": {
"x": {"field": "x", "type": "quantitative", "title": "ln(I)", "scale": {"domain": [-5, 3], "nice": false, "zero": false}, "axis": {"values": [-5,-4.8,-4.6,-4.4,-4.2,-4,-3.8,-3.6,-3.4,-3.2,-3,-2.8,-2.6,-2.4,-2.2,-2,-1.8,-1.6,-1.4,-1.2,-1,-0.8,-0.6,-0.4,-0.2,0,0.2,0.4,0.6,0.8,1,1.2,1.4,1.6,1.8,2,2.2,2.4,2.6,2.8,3], "labelExpr": "datum.value % 1 == 0 ? format(datum.value, 'd') : ''"}},
"y": {"field": "y", "type": "quantitative", "title": "PDF", "scale": {"type": "log", "domain": [0.00001, 10], "nice": false}, "axis": {"values": [0.00001,0.00002,0.00003,0.00004,0.00005,0.00006,0.00007,0.00008,0.00009,0.0001,0.0002,0.0003,0.0004,0.0005,0.0006,0.0007,0.0008,0.0009,0.001,0.002,0.003,0.004,0.005,0.006,0.007,0.008,0.009,0.01,0.02,0.03,0.04,0.05,0.06,0.07,0.08,0.09,0.1,0.2,0.3,0.4,0.5,0.6,0.7,0.8,0.9,1,2,3,4,5,6,7,8,9,10], "labelExpr": "datum.value==10?'10¹':datum.value==1?'10⁰':datum.value==0.1?'10⁻¹':datum.value==0.01?'10⁻²':datum.value==0.001?'10⁻³':datum.value==0.0001?'10⁻⁴':datum.value==0.00001?'10⁻⁵':''"}}
},
"layer": [
{"transform": [{"filter": "datum.s=='W'||datum.s=='E'"}], "mark": "point",
 "encoding": {"color": {"field": "s", "type": "nominal", "scale": {"domain": ["W","F","E","1","2"]}, "legend": {"title": null, "orient": "none", "legendX": 75, "legendY": 98, "labelExpr": "datum.value=='W'?'(1×1), PDF_WO':datum.value=='F'?'(1×1), PDF_IT,fit':datum.value=='E'?'(1×3), PDF_EGC':datum.value=='1'?'(1×3), PDF_IT1, ρ_X=0.49, ρ_Y=0':'(1×3), PDF_IT2, ρ_X=ρ_Y=0.24'"}},
  "shape": {"field": "s", "type": "nominal", "scale": {"domain": ["W","F","E","1","2"]}}}},
{"transform": [{"filter": "datum.s=='F'||datum.s=='1'||datum.s=='2'"}], "mark": "line",
 "encoding": {"color": {"field": "s", "type": "nominal", "scale": {"domain": ["W","F","E","1","2"]}, "legend": null},
  "strokeDash": {"field": "s", "type": "nominal", "scale": {"domain": ["W","F","E","1","2"], "range": [[1,0],[2.5,2],[1,0],[1,0],[3,2]]}, "legend": null}}},
{"data": {"values": [{}]}, "mark": {"type": "text", "font": "Liberation Serif", "fontStyle": "italic", "fontSize": 6.5, "color": "#444"}, "encoding": {"x": {"datum": -3.43}, "y": {"datum": 1.45}, "text": {"value": "a = 3.42, b = 3.42"}}},
{"data": {"values": [{}]}, "mark": {"type": "rule", "color": "#000", "strokeWidth": 0.8}, "encoding": {"x": {"datum": -3.32}, "y": {"datum": 0.98}, "x2": {"datum": -3.21}, "y2": {"datum": 0.145}}},
{"data": {"values": [{}]}, "mark": {"type": "point", "shape": "triangle-down", "size": 18, "angle": 352, "color": "#000"}, "encoding": {"x": {"datum": -3.2}, "y": {"datum": 0.129}}},
{"data": {"values": [{}]}, "mark": {"type": "text", "align": "right", "fontSize": 6.5, "color": "#222"}, "encoding": {"x": {"datum": 2.95}, "y": {"datum": 3.3}, "text": {"value": "ρ=0.21"}}}
]
},
{
"width": 231, "height": 164, "data": {"name": "f"},
"title": {"text": "(f)  L = 2.0 km, Δ_E = 10 mm", "dx": -42},
"encoding": {
"x": {"field": "x", "type": "quantitative", "title": "ln(I)", "scale": {"domain": [-5, 3], "nice": false, "zero": false}, "axis": {"values": [-5,-4.8,-4.6,-4.4,-4.2,-4,-3.8,-3.6,-3.4,-3.2,-3,-2.8,-2.6,-2.4,-2.2,-2,-1.8,-1.6,-1.4,-1.2,-1,-0.8,-0.6,-0.4,-0.2,0,0.2,0.4,0.6,0.8,1,1.2,1.4,1.6,1.8,2,2.2,2.4,2.6,2.8,3], "labelExpr": "datum.value % 1 == 0 ? format(datum.value, 'd') : ''"}},
"y": {"field": "y", "type": "quantitative", "title": "PDF", "scale": {"type": "log", "domain": [0.00001, 10], "nice": false}, "axis": {"values": [0.00001,0.00002,0.00003,0.00004,0.00005,0.00006,0.00007,0.00008,0.00009,0.0001,0.0002,0.0003,0.0004,0.0005,0.0006,0.0007,0.0008,0.0009,0.001,0.002,0.003,0.004,0.005,0.006,0.007,0.008,0.009,0.01,0.02,0.03,0.04,0.05,0.06,0.07,0.08,0.09,0.1,0.2,0.3,0.4,0.5,0.6,0.7,0.8,0.9,1,2,3,4,5,6,7,8,9,10], "labelExpr": "datum.value==10?'10¹':datum.value==1?'10⁰':datum.value==0.1?'10⁻¹':datum.value==0.01?'10⁻²':datum.value==0.001?'10⁻³':datum.value==0.0001?'10⁻⁴':datum.value==0.00001?'10⁻⁵':''"}}
},
"layer": [
{"transform": [{"filter": "datum.s=='W'||datum.s=='E'"}], "mark": "point",
 "encoding": {"color": {"field": "s", "type": "nominal", "scale": {"domain": ["W","F","E","1","2"]}, "legend": {"title": null, "orient": "none", "legendX": 75, "legendY": 98, "labelExpr": "datum.value=='W'?'(1×1), PDF_WO':datum.value=='F'?'(1×1), PDF_IT,fit':datum.value=='E'?'(1×3), PDF_EGC':datum.value=='1'?'(1×3), PDF_IT1, ρ_X=0.28, ρ_Y=0':'(1×3), PDF_IT2, ρ_X=ρ_Y=0.14'"}},
  "shape": {"field": "s", "type": "nominal", "scale": {"domain": ["W","F","E","1","2"]}}}},
{"transform": [{"filter": "datum.s=='F'||datum.s=='1'||datum.s=='2'"}], "mark": "line",
 "encoding": {"color": {"field": "s", "type": "nominal", "scale": {"domain": ["W","F","E","1","2"]}, "legend": null},
  "strokeDash": {"field": "s", "type": "nominal", "scale": {"domain": ["W","F","E","1","2"], "range": [[1,0],[2.5,2],[1,0],[1,0],[3,2]]}, "legend": null}}},
{"data": {"values": [{}]}, "mark": {"type": "text", "font": "Liberation Serif", "fontStyle": "italic", "fontSize": 6.5, "color": "#444"}, "encoding": {"x": {"datum": -3.34}, "y": {"datum": 1.45}, "text": {"value": "a = 3.42, b = 3.42"}}},
{"data": {"values": [{}]}, "mark": {"type": "rule", "color": "#000", "strokeWidth": 0.8}, "encoding": {"x": {"datum": -3.3}, "y": {"datum": 0.98}, "x2": {"datum": -3.17}, "y2": {"datum": 0.148}}},
{"data": {"values": [{}]}, "mark": {"type": "point", "shape": "triangle-down", "size": 18, "angle": 350, "color": "#000"}, "encoding": {"x": {"datum": -3.16}, "y": {"datum": 0.132}}},
{"data": {"values": [{}]}, "mark": {"type": "text", "align": "right", "fontSize": 6.5, "color": "#222"}, "encoding": {"x": {"datum": 2.95}, "y": {"datum": 3.3}, "text": {"value": "ρ=0.12"}}}
]
}
],
"config": {
"font": "Liberation Sans",
"view": {"stroke": "#000000", "strokeWidth": 0.8},
"range": {"category": ["#000000","#000000","#ff0000","#ff0000","#0000ff"],
 "symbol": ["M-0.24,0A0.24,0.24,0,1,0,0.24,0A0.24,0.24,0,1,0,-0.24,0Z", "M-1.3,-0.08H-0.75V0.08H-1.3Z M-0.3,-0.08H0.3V0.08H-0.3Z M0.75,-0.08H1.3V0.08H0.75Z", "M-0.24,0A0.24,0.24,0,1,0,0.24,0A0.24,0.24,0,1,0,-0.24,0Z", "M-1.3,-0.1H1.3V0.1H-1.3Z", "M-1.3,-0.09H-0.85V0.09H-1.3Z M-0.6,-0.09H-0.15V0.09H-0.6Z M0.1,-0.09H0.55V0.09H0.1Z M0.8,-0.09H1.25V0.09H0.8Z"]},
"axis": {"labelFontSize": 6.5, "labelColor": "#333333", "titleFontSize": 6.5, "titleFontWeight": "normal", "titleColor": "#333333", "ticks": false, "domain": false, "labelPadding": 2, "grid": true, "gridColor": "#b0b0b0", "gridDash": [1, 1], "gridWidth": 0.7, "gridOpacity": 1, "labelOverlap": false, "labelFlush": false, "labelBound": false},
"axisX": {"titlePadding": 1, "labelPadding": 3},
"axisY": {"titlePadding": 2},
"legend": {"labelFont": "Liberation Sans", "labelFontSize": 6.3, "labelColor": "#222222", "symbolSize": 100, "rowPadding": 1.5, "padding": 3, "strokeColor": "#000000", "fillColor": "#ffffff", "labelOffset": 3, "labelLimit": 300},
"title": {"orient": "bottom", "anchor": "middle", "frame": "group", "font": "Liberation Serif", "fontSize": 12, "fontWeight": "normal", "color": "#000000", "offset": 6},
"point": {"filled": true, "opacity": 1, "size": 100, "strokeWidth": 0},
"line": {"strokeWidth": 0.9}
}
}
